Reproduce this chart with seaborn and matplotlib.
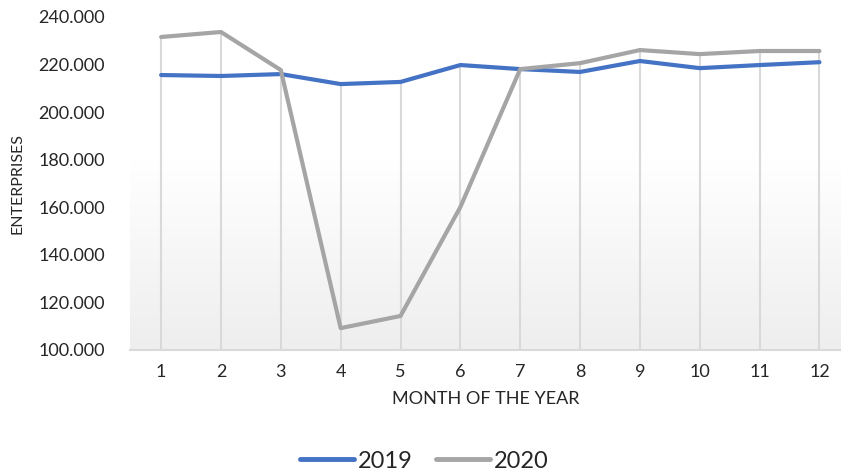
import numpy as np
import pandas as pd
import matplotlib
matplotlib.use("Agg")
import matplotlib.pyplot as plt
import seaborn as sns
from matplotlib.ticker import FuncFormatter
from matplotlib.colors import LinearSegmentedColormap
from matplotlib.lines import Line2D

months = list(range(1, 13))
values_2019 = [215.6, 215.2, 216.0, 211.8, 212.7, 219.8, 218.1, 216.9, 221.5, 218.5, 219.8, 221.0]
values_2020 = [231.6, 233.7, 217.7, 109.2, 114.3, 160.1, 218.1, 220.6, 226.1, 224.4, 225.7, 225.7]
series_names = ["2019", "2020"]
colors = ["#4472C4", "#A5A5A5"]
y_ticks = [100, 120, 140, 160, 180, 200, 220, 240]

df = pd.DataFrame({
    "month": months * 2,
    "value": values_2019 + values_2020,
    "year": ["2019"] * 12 + ["2020"] * 12,
})

sns.set_theme(style="white")
plt.rcParams["font.family"] = ["Lato", "DejaVu Sans"]

fig = plt.figure(figsize=(8.41, 4.74), dpi=100)
ax = fig.add_axes([130 / 841, 1 - 350 / 474, 711 / 841, 333 / 474])

xlim = (0.48, 12.36)
ylim = (100, 240)
grad = np.linspace(0, 1, 256).reshape(-1, 1)
cmap = LinearSegmentedColormap.from_list("g", ["#ffffff", "#ffffff", "#eeeeee"])
ax.imshow(grad, aspect="auto", cmap=cmap, extent=[xlim[0], xlim[1], ylim[0], ylim[1] + 20],
          origin="upper", zorder=0)

tops = [max(a, b) for a, b in zip(values_2019, values_2020)]
ax.vlines(months, ylim[0], tops, color="#d9d9d9", lw=1.5, zorder=1)

sns.lineplot(data=df, x="month", y="value", hue="year", palette=colors, lw=3,
             ax=ax, zorder=3, legend=False)

ax.set_xlim(*xlim)
ax.set_ylim(ylim[0], ylim[1])
ax.set_xticks(months)
ax.set_yticks(y_ticks)
ax.yaxis.set_major_formatter(FuncFormatter(lambda v, p: f"{int(v)}.000"))
ax.tick_params(axis="both", labelsize=13, colors="#262626", length=0)
ax.tick_params(axis="y", pad=18)
ax.tick_params(axis="x", pad=10)
for s in ["left", "top", "right"]:
    ax.spines[s].set_visible(False)
ax.spines["bottom"].set_color("#d9d9d9")
ax.spines["bottom"].set_linewidth(1.5)
ax.set_xlabel("MONTH OF THE YEAR", fontsize=13, color="#262626", labelpad=8)
ax.set_ylabel("ENTERPRISES", fontsize=11.5, color="#262626")
ax.yaxis.set_label_coords(-0.148, 0.5)

handles = [Line2D([0], [0], color=c, lw=3.5, solid_capstyle="round") for c in colors]
fig.legend(handles, series_names, loc="center", bbox_to_anchor=(424 / 841, 1 - 461 / 474),
           ncol=2, frameon=False, fontsize=17, handlelength=2.3, handletextpad=0.15,
           columnspacing=1.0)

fig.savefig("out.png", dpi=100)
